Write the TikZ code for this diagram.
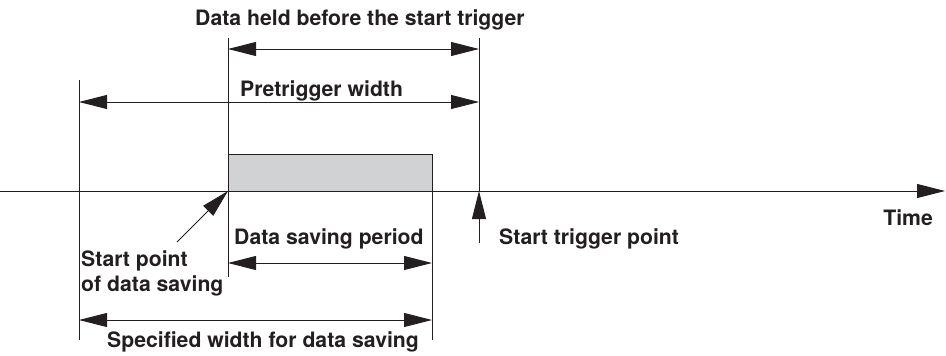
\documentclass[tikz,border=0pt]{standalone}
\usepackage{fontspec}
\setmainfont{TeX Gyre Heros}
\usetikzlibrary{arrows.meta}
\definecolor{boxgray}{RGB}{209,210,212}
\definecolor{inkc}{RGB}{35,31,32}
\begin{document}
\begin{tikzpicture}[x=1pt,y=-1pt,
  lbl/.style={font=\fontsize{21.2}{24}\selectfont\bfseries, inner sep=0pt, anchor=base west, text=inkc},
  ln/.style={line width=0.9pt, draw=inkc},
  tip/.tip={Triangle[length=28pt,width=14pt]},
  dimarrow/.style={ln, tip-tip},
  onearrow/.style={ln, -tip}]
\useasboundingbox (0,0) rectangle (946,356);
% reference coordinates
\coordinate (aL) at (0,191);
\coordinate (aR) at (945,191);
\coordinate (v1t) at (79,80);   \coordinate (v1b) at (79,340);
\coordinate (v2t) at (228,38);  \coordinate (v2b) at (228,277);
\coordinate (v3t) at (432,154); \coordinate (v3b) at (432,340);
\coordinate (v4t) at (479,38);  \coordinate (v4b) at (479,191);
% shaded data block
\draw[ln, fill=boxgray] (228,154) coordinate (bx1) rectangle (432,191) coordinate (bx2);
% time axis
\draw[onearrow] (aL) -- (aR);
% vertical guide lines
\draw[ln] (v1t) -- (v1b);
\draw[ln] (v2t) -- (v2b);
\draw[ln] (v3t) -- (v3b);
\draw[ln] (v4t) -- (v4b);
% dimension arrows
\coordinate (h1a) at (228,49);  \coordinate (h1b) at (479,49);
\coordinate (h2a) at (79,102);  \coordinate (h2b) at (479,102);
\coordinate (h3a) at (228,263); \coordinate (h3b) at (432,263);
\coordinate (h4a) at (79,320);  \coordinate (h4b) at (432,320);
\draw[dimarrow] (h1a) -- (h1b);
\draw[dimarrow] (h2a) -- (h2b);
\draw[dimarrow] (h3a) -- (h3b);
\draw[dimarrow] (h4a) -- (h4b);
% pointer arrows
\coordinate (sp0) at (177,242); \coordinate (sp1) at (228,191);
\coordinate (st0) at (479,243); \coordinate (st1) at (479,191);
\draw[onearrow] (sp0) -- (sp1);
\draw[onearrow] (st0) -- (st1);
% labels
\node[lbl] (title) at (195,25) {Data held before the start trigger};
\node[lbl] (pre) at (240,96) {Pretrigger width};
\node[lbl] (dsp) at (234,244) {Data saving period};
\node[lbl] (sp1t) at (81,266) {Start point};
\node[lbl] (sp2t) at (81,291) {of data saving};
\node[lbl] (spec) at (107,347) {Specified width for data saving};
\node[lbl] (stp) at (499,244) {Start trigger point};
\node[lbl, anchor=base east] (time) at (933,225) {Time};
\end{tikzpicture}
\end{document}
